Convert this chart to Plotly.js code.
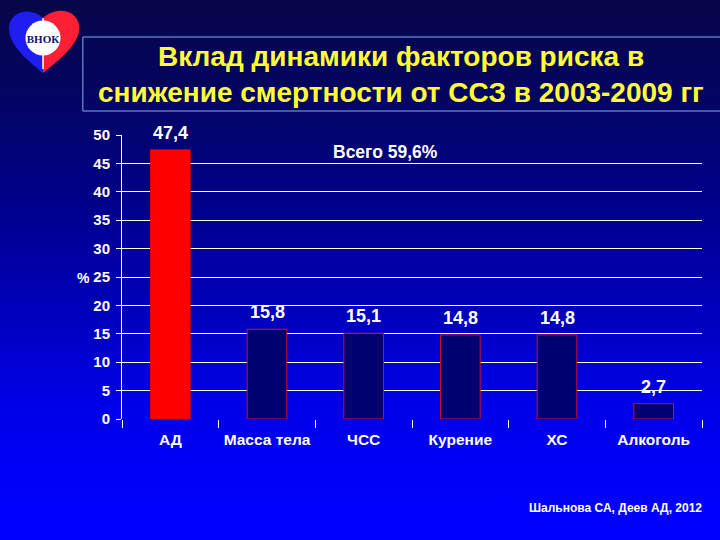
<!DOCTYPE html>
<html>
<head>
<meta charset="utf-8">
<script src="https://cdn.plot.ly/plotly-3.0.1.min.js"></script>
<style>
  html, body { margin: 0; padding: 0; }
  body {
    width: 720px; height: 540px; overflow: hidden; position: relative;
    background: linear-gradient(to bottom, #07074a 0%, #040463 18%, #00008c 38%, #0000b8 56%, #0000e6 74%, #0000fa 88%, #0000ff 100%);
  }
  #chart { position: absolute; left: 0; top: 0; width: 720px; height: 540px; }
  #logo { position: absolute; left: 6px; top: 5px; width: 76px; height: 72px; z-index: 5; }
</style>
</head>
<body>
<div id="chart"></div>
<svg id="logo" viewBox="0 0 76 72" xmlns="http://www.w3.org/2000/svg">
  <defs>
    <clipPath id="lh"><rect x="0" y="0" width="37" height="72"/></clipPath>
    <clipPath id="rh"><rect x="37" y="0" width="39" height="72"/></clipPath>
  </defs>
  <path d="M37,68 C14,50 2,36 3,22 C4,8 22,0 37,13 C52,0 71,6 73,20 C75,36 60,50 37,68 Z" fill="#1e1ef0" clip-path="url(#lh)"/>
  <path d="M37,68 C14,50 2,36 3,22 C4,8 22,0 37,13 C52,0 71,6 73,20 C75,36 60,50 37,68 Z" fill="#ff1f35" clip-path="url(#rh)"/>
  <line x1="37" y1="13" x2="37" y2="64" stroke="#ffffff" stroke-width="1.5"/>
  <circle cx="37" cy="33" r="17.5" fill="#ffffff"/>
  <text x="37" y="37.5" text-anchor="middle" font-family="Liberation Serif, DejaVu Serif, serif" font-size="11" font-weight="bold" fill="#101070">ВНОК</text>
</svg>
<script>
const categories = ['АД', 'Масса тела', 'ЧСС', 'Курение', 'ХС', 'Алкоголь'];
const values = [47.4, 15.8, 15.1, 14.8, 14.8, 2.7];
const valueLabels = ['47,4', '15,8', '15,1', '14,8', '14,8', '2,7'];
const yTicks = [0, 5, 10, 15, 20, 25, 30, 35, 40, 45, 50];
const titleLines = ['Вклад динамики факторов риска в', 'снижение смертности от ССЗ в 2003-2009 гг'];
const totalLabel = 'Всего 59,6%';
const sourceLabel = 'Шальнова СА, Деев АД, 2012';

const barColors = categories.map((c, i) => i === 0 ? '#ff0000' : '#000070');
const lineColors = categories.map((c, i) => i === 0 ? '#e00000' : '#d01020');

const trace = {
  type: 'bar',
  x: categories,
  y: values,
  width: 0.41,
  marker: { color: barColors, line: { color: lineColors, width: 1 } },
  hoverinfo: 'skip'
};

const fontFam = 'Liberation Sans, Arial, sans-serif';

const annotations = categories.map((c, i) => ({
  x: c, y: values[i], xref: 'x', yref: 'y',
  text: valueLabels[i], showarrow: false,
  yanchor: 'middle', yshift: 17,
  font: { family: fontFam, size: 18, color: '#ffffff', weight: 'bold' }
}));

annotations.push(
  { xref: 'paper', yref: 'paper', x: 0.455, y: 0.94, text: totalLabel, showarrow: false,
    xanchor: 'center', yanchor: 'middle',
    font: { family: fontFam, size: 17.5, color: '#ffffff', weight: 'bold' } },
  { xref: 'paper', yref: 'paper', x: -0.067, y: 0.4965, text: '%', showarrow: false,
    xanchor: 'center', yanchor: 'middle',
    font: { family: fontFam, size: 14, color: '#ffffff', weight: 'bold' } },
  { xref: 'paper', yref: 'paper', x: 1.003, y: -0.313, text: sourceLabel, showarrow: false,
    xanchor: 'right', yanchor: 'middle',
    font: { family: fontFam, size: 12, color: '#ffffff', weight: 'bold' } },
  { xref: 'paper', yref: 'paper', x: 0.481, y: (419 - 57) / 284, text: titleLines[0], showarrow: false,
    xanchor: 'center', yanchor: 'middle',
    font: { family: fontFam, size: 28, color: '#ffff33', weight: 'bold' } },
  { xref: 'paper', yref: 'paper', x: 0.481, y: (419 - 92) / 284, text: titleLines[1], showarrow: false,
    xanchor: 'center', yanchor: 'middle',
    font: { family: fontFam, size: 28, color: '#ffff33', weight: 'bold' } }
);

const layout = {
  width: 720, height: 540,
  margin: { l: 122, r: 18, t: 135, b: 121, pad: 0 },
  paper_bgcolor: 'rgba(0,0,0,0)',
  plot_bgcolor: 'rgba(0,0,0,0)',
  showlegend: false,
  xaxis: {
    type: 'category',
    showgrid: false, showline: false, zeroline: false,
    ticks: 'outside', tickson: 'boundaries', ticklen: 8, tickcolor: '#ffffff', tickwidth: 1,
    tickangle: 0,
    ticklabelstandoff: 9,
    tickfont: { family: fontFam, size: 15.5, color: '#ffffff', weight: 'bold' },
    fixedrange: true
  },
  yaxis: {
    range: [0, 50], tickvals: yTicks, ticktext: yTicks.map(String),
    showgrid: true, gridcolor: '#ffffff', gridwidth: 1,
    showline: true, linecolor: '#ffffff', linewidth: 1,
    zeroline: false,
    ticks: 'outside', ticklen: 5, tickcolor: '#ffffff',
    ticklabelstandoff: 3,
    tickfont: { family: fontFam, size: 15, color: '#ffffff', weight: 'bold' },
    fixedrange: true
  },
  shapes: [
    { type: 'rect', xref: 'paper', yref: 'paper',
      x0: (83 - 122) / 578, x1: (725 - 122) / 578,
      y0: (419 - 111) / 284, y1: (419 - 37) / 284,
      line: { color: '#7fb0e8', width: 1 }, fillcolor: 'rgba(0,0,0,0)' }
  ],
  annotations: annotations
};

Plotly.newPlot('chart', [trace], layout, { displayModeBar: false, staticPlot: true });
</script>
</body>
</html>
